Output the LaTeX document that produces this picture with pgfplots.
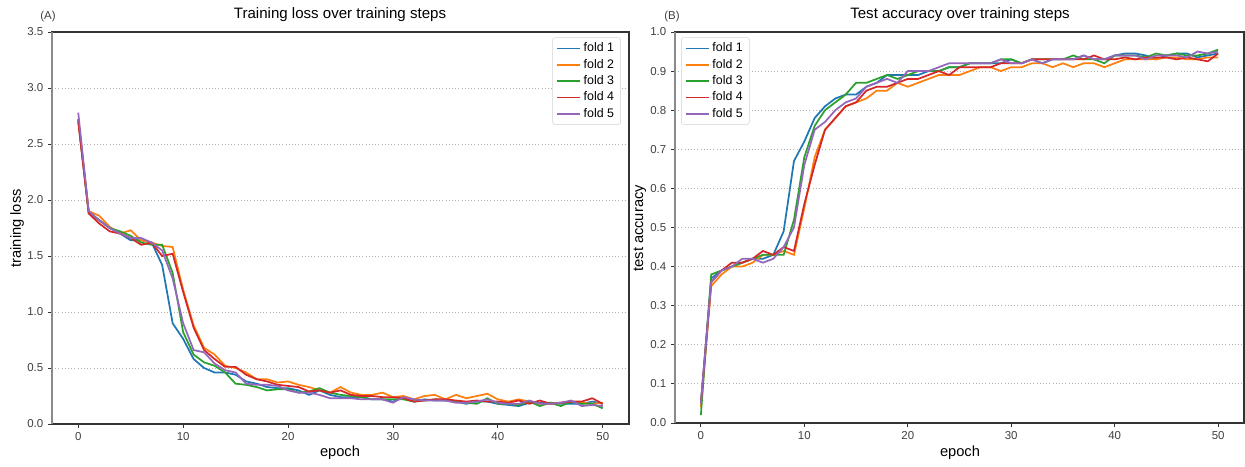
\documentclass[border=0pt]{standalone}
\usepackage{fontspec}
\setmainfont{Liberation Sans}
\usepackage{pgfplots}
\usepackage{pgfplotstable}
\pgfplotsset{compat=1.18}
\definecolor{c0}{HTML}{1F77B4}
\definecolor{c1}{HTML}{FF7F0E}
\definecolor{c2}{HTML}{2CA02C}
\definecolor{c3}{HTML}{D62728}
\definecolor{c4}{HTML}{9467BD}
\definecolor{spine}{HTML}{333333}
\definecolor{lspine}{HTML}{8A8A8A}

\pgfplotstableread{
e f1 f2 f3 f4 f5
0 2.72 2.72 2.72 2.70 2.78
1 1.89 1.90 1.88 1.88 1.90
2 1.82 1.86 1.82 1.79 1.82
3 1.75 1.76 1.75 1.72 1.75
4 1.70 1.70 1.72 1.70 1.70
5 1.64 1.73 1.68 1.66 1.66
6 1.64 1.64 1.62 1.60 1.66
7 1.62 1.62 1.60 1.62 1.62
8 1.42 1.59 1.60 1.50 1.55
9 0.90 1.58 1.35 1.52 1.30
10 0.76 1.20 0.82 1.18 0.90
11 0.58 0.88 0.62 0.86 0.66
12 0.50 0.68 0.55 0.66 0.64
13 0.46 0.62 0.52 0.58 0.54
14 0.46 0.52 0.46 0.51 0.48
15 0.44 0.50 0.36 0.51 0.46
16 0.38 0.46 0.35 0.44 0.36
17 0.36 0.40 0.33 0.40 0.35
18 0.33 0.40 0.30 0.38 0.35
19 0.32 0.37 0.31 0.35 0.34
20 0.32 0.38 0.31 0.34 0.30
21 0.30 0.35 0.28 0.33 0.28
22 0.26 0.33 0.29 0.29 0.28
23 0.30 0.30 0.32 0.30 0.26
24 0.26 0.28 0.28 0.28 0.23
25 0.24 0.33 0.26 0.30 0.23
26 0.24 0.28 0.25 0.26 0.23
27 0.24 0.26 0.24 0.25 0.22
28 0.22 0.26 0.22 0.25 0.22
29 0.22 0.28 0.22 0.24 0.22
30 0.20 0.24 0.22 0.24 0.19
31 0.24 0.25 0.22 0.23 0.24
32 0.20 0.22 0.20 0.20 0.22
33 0.22 0.25 0.21 0.21 0.21
34 0.21 0.26 0.22 0.22 0.21
35 0.21 0.22 0.21 0.22 0.21
36 0.20 0.26 0.20 0.21 0.19
37 0.18 0.23 0.19 0.20 0.19
38 0.20 0.25 0.18 0.21 0.20
39 0.20 0.27 0.23 0.20 0.22
40 0.18 0.22 0.18 0.20 0.19
41 0.17 0.20 0.18 0.19 0.18
42 0.16 0.22 0.17 0.21 0.18
43 0.19 0.20 0.20 0.18 0.21
44 0.19 0.18 0.16 0.21 0.18
45 0.19 0.18 0.19 0.18 0.18
46 0.18 0.19 0.16 0.19 0.19
47 0.18 0.20 0.20 0.20 0.21
48 0.18 0.19 0.18 0.20 0.16
49 0.20 0.18 0.18 0.23 0.17
50 0.18 0.19 0.14 0.18 0.16
}\losstable

\pgfplotstableread{
e f1 f2 f3 f4 f5
0 0.05 0.04 0.02 0.05 0.05
1 0.37 0.35 0.38 0.36 0.36
2 0.39 0.38 0.39 0.39 0.39
3 0.40 0.40 0.40 0.41 0.40
4 0.41 0.40 0.41 0.41 0.42
5 0.42 0.41 0.42 0.42 0.42
6 0.42 0.43 0.43 0.44 0.41
7 0.43 0.43 0.43 0.43 0.42
8 0.49 0.44 0.43 0.45 0.45
9 0.67 0.43 0.52 0.44 0.50
10 0.72 0.55 0.68 0.56 0.66
11 0.78 0.68 0.76 0.66 0.75
12 0.81 0.75 0.80 0.75 0.77
13 0.83 0.78 0.82 0.78 0.80
14 0.84 0.81 0.84 0.81 0.82
15 0.84 0.82 0.87 0.82 0.83
16 0.86 0.83 0.87 0.85 0.86
17 0.87 0.85 0.88 0.86 0.87
18 0.89 0.85 0.89 0.86 0.88
19 0.89 0.87 0.88 0.87 0.87
20 0.89 0.86 0.89 0.88 0.90
21 0.89 0.87 0.90 0.88 0.90
22 0.90 0.88 0.90 0.89 0.90
23 0.90 0.89 0.90 0.90 0.91
24 0.91 0.89 0.91 0.89 0.92
25 0.91 0.89 0.91 0.91 0.92
26 0.92 0.90 0.92 0.91 0.92
27 0.92 0.91 0.92 0.91 0.92
28 0.92 0.91 0.92 0.91 0.92
29 0.92 0.90 0.93 0.92 0.93
30 0.93 0.91 0.93 0.92 0.92
31 0.92 0.91 0.92 0.92 0.92
32 0.93 0.92 0.93 0.93 0.93
33 0.92 0.92 0.93 0.93 0.92
34 0.93 0.91 0.93 0.93 0.93
35 0.93 0.92 0.93 0.93 0.93
36 0.93 0.91 0.94 0.93 0.93
37 0.94 0.92 0.93 0.93 0.94
38 0.93 0.92 0.93 0.94 0.93
39 0.93 0.91 0.92 0.93 0.93
40 0.94 0.92 0.94 0.93 0.94
41 0.945 0.93 0.94 0.935 0.94
42 0.945 0.93 0.94 0.93 0.94
43 0.94 0.93 0.935 0.935 0.93
44 0.93 0.93 0.945 0.935 0.94
45 0.94 0.935 0.94 0.935 0.94
46 0.945 0.935 0.945 0.93 0.94
47 0.945 0.93 0.94 0.935 0.935
48 0.935 0.93 0.94 0.93 0.95
49 0.94 0.935 0.945 0.925 0.945
50 0.945 0.935 0.955 0.945 0.95
}\acctable

\pgfplotsset{
  myaxis/.style={
    scale only axis,
    xmin=-2.5, xmax=52.5,
    xtick={0,10,20,30,40,50},
    tick align=outside,
    xtick pos=bottom, ytick pos=left,
    major tick length=3pt,
    tick style={color=spine, line width=0.6pt},
    ymajorgrids,
    grid style={dotted, color=gray!60, line width=0.6pt},
    axis line style={color=spine, line width=0.8pt},
    ticklabel style={font=\fontsize{8.6}{10}\selectfont, color=black!75},
    /pgf/number format/assume math mode=true,
    yticklabel style={/pgf/number format/fixed, /pgf/number format/fixed zerofill, /pgf/number format/precision=1},
    legend cell align=left,
    legend style={font=\fontsize{9.3}{11.5}\selectfont, draw=gray!35, rounded corners=2pt},
    legend image post style={line width=1.3pt},
    clip=true,
  },
  s0/.style={color=c0, line width=1.3pt, mark=none},
  s1/.style={color=c1, line width=1.3pt, mark=none},
  s2/.style={color=c2, line width=1.3pt, mark=none},
  s3/.style={color=c3, line width=1.3pt, mark=none},
  s4/.style={color=c4, line width=1.3pt, mark=none},
}

\begin{document}
\begin{tikzpicture}
\useasboundingbox (0,0) rectangle (933.75pt,350.25pt);
% Left axis
\begin{axis}[myaxis,
  at={(39pt,32.25pt)}, anchor=south west,
  width=432.75pt, height=294pt,
  ymin=0, ymax=3.5,
  ytick={0,0.5,1.0,1.5,2.0,2.5,3.0,3.5},
  legend style={at={(1,1)}, anchor=north east, xshift=-6pt, yshift=-4pt},
]
\addplot[s0] table[x=e,y=f1] {\losstable};
\addlegendentry{fold 1}
\addplot[s1] table[x=e,y=f2] {\losstable};
\addlegendentry{fold 2}
\addplot[s2] table[x=e,y=f3] {\losstable};
\addlegendentry{fold 3}
\addplot[s3] table[x=e,y=f4] {\losstable};
\addlegendentry{fold 4}
\addplot[s4] table[x=e,y=f5] {\losstable};
\addlegendentry{fold 5}
\end{axis}
\draw[lspine, line width=1.4pt] (39pt,32.25pt) -- (39pt,326.25pt);
% Right axis
\begin{axis}[myaxis,
  at={(506.25pt,33pt)}, anchor=south west,
  width=426.75pt, height=293.25pt,
  ymin=0, ymax=1.0,
  ytick={0,0.1,0.2,0.3,0.4,0.5,0.6,0.7,0.8,0.9,1.0},
  legend style={at={(0,1)}, anchor=north west, xshift=4.5pt, yshift=-4pt},
]
\addplot[s0] table[x=e,y=f1] {\acctable};
\addlegendentry{fold 1}
\addplot[s1] table[x=e,y=f2] {\acctable};
\addlegendentry{fold 2}
\addplot[s2] table[x=e,y=f3] {\acctable};
\addlegendentry{fold 3}
\addplot[s3] table[x=e,y=f4] {\acctable};
\addlegendentry{fold 4}
\addplot[s4] table[x=e,y=f5] {\acctable};
\addlegendentry{fold 5}
\end{axis}
\draw[lspine, line width=1.4pt] (506.25pt,33pt) -- (506.25pt,326.25pt);
% Titles and labels
\node[font=\fontsize{11.3}{13}\selectfont] at (255pt,339.5pt) {Training loss over training steps};
\node[font=\fontsize{11.3}{13}\selectfont] at (720pt,339.5pt) {Test accuracy over training steps};
\node[font=\fontsize{8.6}{10}\selectfont, color=black!75] at (36pt,338pt) {(A)};
\node[font=\fontsize{8.6}{10}\selectfont, color=black!75] at (504pt,338pt) {(B)};
\node[font=\fontsize{11}{12}\selectfont] at (255pt,10.5pt) {epoch};
\node[font=\fontsize{11}{12}\selectfont] at (720pt,10.5pt) {epoch};
\node[font=\fontsize{11}{12}\selectfont, rotate=90] at (12.75pt,179pt) {training loss};
\node[font=\fontsize{11}{12}\selectfont, rotate=90] at (480pt,179pt) {test accuracy};
\end{tikzpicture}
\end{document}
